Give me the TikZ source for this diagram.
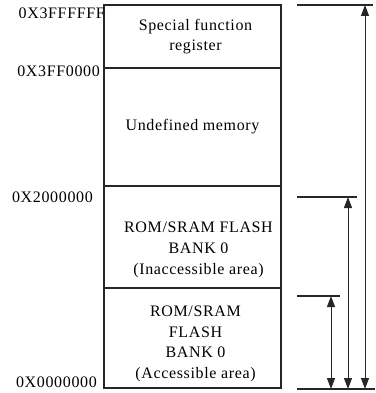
\documentclass[tikz,border=0pt]{standalone}
\usepackage{fontspec}
\setmainfont[LetterSpace=4]{Liberation Serif}
\usetikzlibrary{arrows.meta,positioning}
\tikzset{
  region/.style={rectangle, draw=black!85, line width=1.4pt, minimum width=177pt,
                 inner sep=0pt, outer sep=0pt},
  txt/.style={align=center, inner sep=0pt, font=\fontsize{16}{20.6}\selectfont},
  addr/.style={anchor=east, inner sep=0pt, font=\fontsize{16}{18}\selectfont},
  tick/.style={draw=black!85, line width=1.2pt},
  span/.style={{Triangle[length=11pt,width=8pt]}-{Triangle[length=11pt,width=8pt]},
               draw=black!85, line width=1pt}
}

\begin{document}
\begin{tikzpicture}[x=1pt, y=-1pt]
\useasboundingbox (0,0) rectangle (375,393);
% memory regions, top to bottom
\node[region, minimum height=63pt, anchor=north west] (sfr) at (104,5) {};
\node[region, minimum height=118pt, below=0pt of sfr] (undef) {};
\node[region, minimum height=102pt, below=0pt of undef] (inacc) {};
\node[region, minimum height=100pt, below=0pt of inacc] (acc) {};
\foreach \r/\dx/\dy/\t in {
  sfr/3/0/{Special function\\register},
  undef/0/0/{Undefined memory},
  inacc/6/13/{ROM/SRAM FLASH\\BANK 0\\(Inaccessible area)},
  acc/3/6/{ROM/SRAM\\FLASH\\BANK 0\\(Accessible area)}}
  \node[txt] (\r-txt) at ([xshift=\dx pt, yshift=-\dy pt]\r.center) {\t};
% addresses
\node[addr] (a3ffffff) at (105,13) {0X3FFFFFF};
\node[addr] (a3ff0000) at (100,71) {0X3FF0000};
\node[addr] (a2000000) at (93,197) {0X2000000};
\node[addr] (a0000000) at (97,382) {0X0000000};
% boundary ticks
\coordinate (topL) at (297,5);   \coordinate (topR) at (373,5);
\coordinate (midL) at (297,197); \coordinate (midR) at (357,197);
\coordinate (lowL) at (297,296); \coordinate (lowR) at (340,296);
\coordinate (botL) at (297,389); \coordinate (botR) at (375,389);
\foreach \a/\b in {topL/topR, midL/midR, lowL/lowR, botL/botR}
  \draw[tick] (\a) -- (\b);
% size arrows
\coordinate (s1a) at (365,5);   \coordinate (s1b) at (365,389);
\coordinate (s2a) at (348,197); \coordinate (s2b) at (348,389);
\coordinate (s3a) at (331,296); \coordinate (s3b) at (331,389);
\foreach \a/\b in {s1a/s1b, s2a/s2b, s3a/s3b}
  \draw[span] (\a) -- (\b);
\end{tikzpicture}
\end{document}
